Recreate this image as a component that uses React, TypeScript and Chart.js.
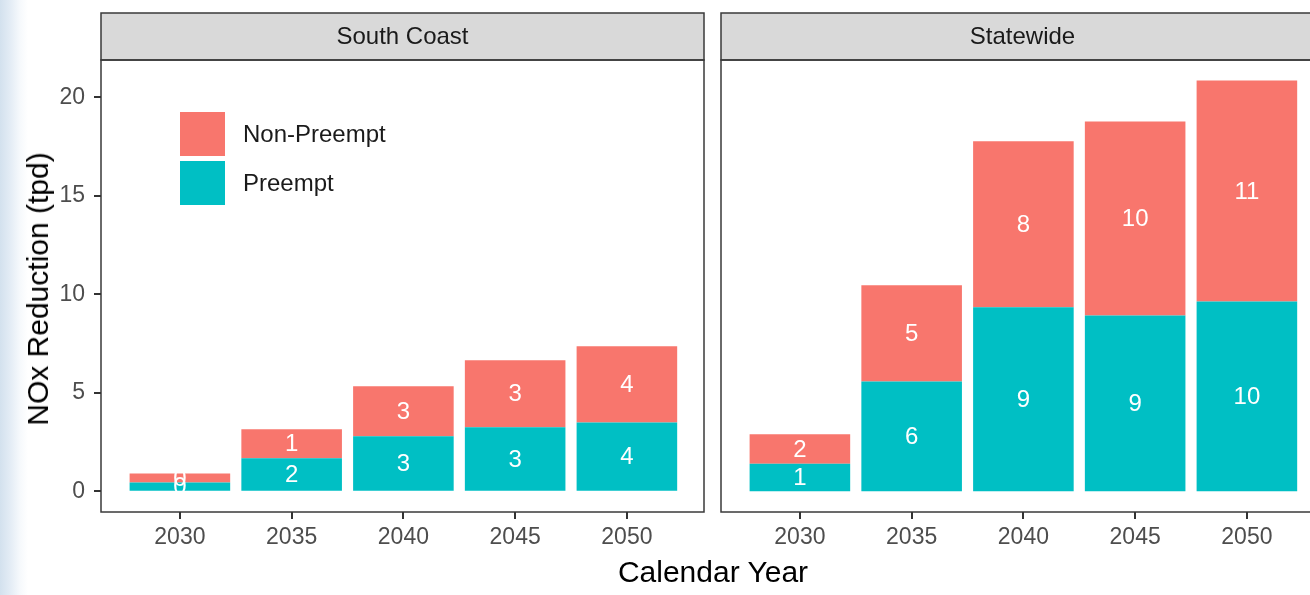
import React, { useEffect, useRef } from "react";
import { Chart, registerables } from "chart.js";
Chart.register(...registerables);

const years = [2030, 2035, 2040, 2045, 2050];
const yTicks = [0, 5, 10, 15, 20];
const panelNames = ["South Coast", "Statewide"];
const seriesNames = ["Preempt", "Non-Preempt"];
const southPreempt = [0.45, 1.68, 2.79, 3.25, 3.5];
const southNonPreempt = [0.45, 1.47, 2.54, 3.4, 3.86];
const statePreempt = [1.4, 5.58, 9.34, 8.93, 9.64];
const stateNonPreempt = [1.5, 4.88, 8.43, 9.85, 11.22];
const xTitle = "Calendar Year";
const yTitle = "NOx Reduction (tpd)";

const FONT = "'Liberation Sans', Arial, sans-serif";
const TEAL = "#00BFC4";
const RED = "#F8766D";
const TICK_LEN = 7;

const panelPlugin = {
  id: "panelDeco",
  afterDraw(chart: any, _args: any, opts: any) {
    const { ctx, chartArea: a } = chart;
    ctx.save();
    // strip
    const stripTop = 13;
    ctx.fillStyle = "#d9d9d9";
    ctx.fillRect(a.left, stripTop, a.right - a.left, a.top - stripTop);
    ctx.strokeStyle = "#3a3a3a";
    ctx.lineWidth = 1.5;
    ctx.strokeRect(a.left, stripTop, a.right - a.left, a.top - stripTop);
    ctx.strokeRect(a.left, a.top, a.right - a.left, a.bottom - a.top);

    // tick marks
    ctx.fillStyle = "#333333";
    years.forEach((v) => {
      const px = Math.round(chart.scales.x.getPixelForValue(v));
      ctx.fillRect(px - 1, a.bottom, 2, TICK_LEN);
    });
    if (opts.yTicks) {
      yTicks.forEach((v) => {
        const py = Math.round(chart.scales.y.getPixelForValue(v));
        ctx.fillRect(a.left - TICK_LEN, py - 1, TICK_LEN, 2);
      });
    }

    ctx.fillStyle = "#1a1a1a";
    ctx.font = `24px ${FONT}`;
    ctx.textAlign = "center";
    ctx.textBaseline = "middle";
    ctx.fillText(opts.title, (a.left + a.right) / 2, (stripTop + a.top) / 2 + 1);

    // bar labels
    ctx.fillStyle = "#ffffff";
    chart.data.datasets.forEach((ds: any, di: number) => {
      const meta = chart.getDatasetMeta(di);
      meta.data.forEach((el: any, i: number) => {
        const v = ds.data[i].y;
        ctx.fillText(String(Math.round(v)), el.x, (el.y + el.base) / 2 + 1);
      });
    });

    // legend
    if (opts.legend) {
      const items = [...chart.data.datasets].reverse();
      items.forEach((ds: any, i: number) => {
        const y0 = 112 + i * 49;
        ctx.fillStyle = ds.backgroundColor;
        ctx.fillRect(180, y0, 45, 44);
        ctx.fillStyle = "#1a1a1a";
        ctx.textAlign = "left";
        ctx.fillText(ds.label, 243, y0 + 23);
      });
    }
    ctx.restore();
  },
};

function makeConfig(title: string, pre: number[], non: number[], showY: boolean, padding: any, legend: boolean): any {
  return {
    type: "bar",
    data: {
      datasets: [
        {
          label: seriesNames[0],
          data: years.map((x, i) => ({ x, y: pre[i] })),
          backgroundColor: TEAL,
          borderWidth: 0,
          barPercentage: 0.9,
          categoryPercentage: 1,
        },
        {
          label: seriesNames[1],
          data: years.map((x, i) => ({ x, y: non[i] })),
          backgroundColor: RED,
          borderWidth: 0,
          barPercentage: 0.9,
          categoryPercentage: 1,
        },
      ],
    },
    options: {
      responsive: false,
      animation: false,
      devicePixelRatio: 1,
      layout: { padding },
      plugins: {
        legend: { display: false },
        tooltip: { enabled: false },
        panelDeco: { title, legend, yTicks: showY },
      },
      scales: {
        x: {
          type: "linear",
          stacked: true,
          offset: false,
          min: 2026.47,
          max: 2053.45,
          afterBuildTicks: (s: any) => {
            s.ticks = years.map((v) => ({ value: v }));
          },
          afterFit: (s: any) => {
            s.height = 83;
          },
          border: { display: false },
          grid: {
            display: true,
            offset: false,
            drawOnChartArea: false,
            drawTicks: true,
            tickLength: TICK_LEN,
            tickColor: "rgba(0,0,0,0)",
          },
          ticks: {
            callback: (v: any) => String(v),
            color: "#4d4d4d",
            font: { size: 23, family: FONT },
            padding: 5,
            maxRotation: 0,
            autoSkip: false,
          },
        },
        y: {
          type: "linear",
          stacked: true,
          display: showY,
          min: -1.05,
          max: 21.9,
          afterBuildTicks: (s: any) => {
            s.ticks = yTicks.map((v) => ({ value: v }));
          },
          afterFit: (s: any) => {
            s.width = showY ? 101 : 0;
          },
          border: { display: false },
          grid: {
            display: true,
            drawOnChartArea: false,
            drawTicks: true,
            tickLength: TICK_LEN,
            tickColor: "rgba(0,0,0,0)",
          },
          ticks: {
            callback: (v: any) => String(v),
            color: "#4d4d4d",
            font: { size: 23, family: FONT },
            padding: 9,
          },
        },
      },
    },
    plugins: [panelPlugin],
  };
}

export default function App() {
  const leftRef = useRef<HTMLCanvasElement>(null);
  const rightRef = useRef<HTMLCanvasElement>(null);

  useEffect(() => {
    const c1 = new Chart(
      leftRef.current!,
      makeConfig(panelNames[0], southPreempt, southNonPreempt, true, { left: 0, top: 60, right: 11, bottom: 0 }, true)
    );
    const c2 = new Chart(
      rightRef.current!,
      makeConfig(panelNames[1], statePreempt, stateNonPreempt, false, { left: 10, top: 60, right: 27, bottom: 0 }, false)
    );
    return () => {
      c1.destroy();
      c2.destroy();
    };
  }, []);

  return (
    <div
      style={{
        position: "fixed",
        left: 0,
        top: 0,
        width: 1310,
        height: 595,
        overflow: "hidden",
        background: "linear-gradient(90deg, #d3e1ee 0px, #e3ecf5 10px, #f6f9fc 20px, #ffffff 28px)",
        fontFamily: FONT,
      }}
    >
      <canvas ref={leftRef} width={715} height={595} style={{ position: "absolute", left: 0, top: 0 }} />
      <canvas ref={rightRef} width={640} height={595} style={{ position: "absolute", left: 711, top: 0 }} />
      <div
        style={{
          position: "absolute",
          left: 713,
          top: 572,
          transform: "translate(-50%, -50%)",
          fontSize: 30,
          color: "#000",
          whiteSpace: "nowrap",
          lineHeight: 1,
        }}
      >
        {xTitle}
      </div>
      <div
        style={{
          position: "absolute",
          left: 38,
          top: 289,
          transform: "translate(-50%, -50%) rotate(-90deg)",
          fontSize: 30,
          color: "#000",
          whiteSpace: "nowrap",
          lineHeight: 1,
        }}
      >
        {yTitle}
      </div>
    </div>
  );
}
